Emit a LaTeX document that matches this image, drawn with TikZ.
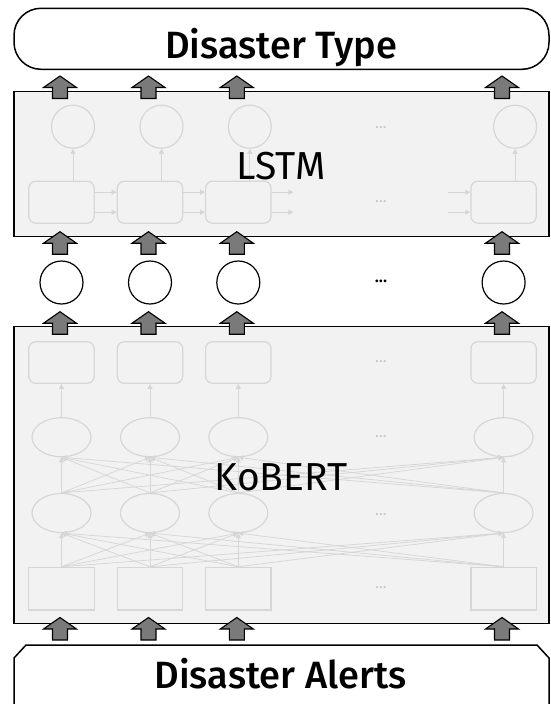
\documentclass[tikz,border=0pt]{standalone}
\usepackage{fontspec}
\setmainfont{Fira Sans}[UprightFont=* Medium]
\newfontfamily\regfont{Fira Sans}
\usetikzlibrary{shapes.geometric,shapes.misc,arrows.meta}
\definecolor{boxfill}{HTML}{F2F2F2}
\definecolor{faint}{HTML}{D6D6D6}
\definecolor{faintdot}{HTML}{C8C8C8}
\definecolor{arrgray}{HTML}{7A7A7A}
\tikzset{
  layerbox/.style={draw=black, line width=1.5pt, fill=boxfill, rectangle, inner sep=0},
  bigtext/.style={font=\fontsize{38}{46}\selectfont, inner sep=0},
  layertext/.style={font=\regfont\fontsize{39}{46}\selectfont, inner sep=0},
  faintline/.style={draw=faint, line width=1.2pt},
  faintarrow/.style={draw=faint, line width=1pt, -{Triangle[length=5pt,width=5pt]}, color=faint},
  fan/.style={draw=faint, line width=0.75pt, -{Triangle[length=5pt,width=5pt]}, color=faint},
  roundcell/.style={faintline, rectangle, rounded corners=7pt, minimum width=65.4pt, minimum height=42pt, inner sep=0},
  sqcell/.style={faintline, rectangle, minimum width=65.4pt, minimum height=42.7pt, inner sep=0},
  ellcell/.style={faintline, ellipse, minimum width=59pt, minimum height=39pt, inner sep=0},
  outcirc/.style={faintline, circle, minimum size=43pt, inner sep=0},
  tokcirc/.style={draw=black, line width=1.2pt, circle, minimum size=43pt, inner sep=0},
  fdots/.style={text=faintdot, font=\regfont\fontsize{16}{16}\selectfont, inner sep=0},
  bdots/.style={text=black, font=\fontsize{17}{17}\selectfont, inner sep=0},
  bigup/.pic={\draw[fill=arrgray, draw=black, line width=1.1pt, line join=miter]
     (0,0) -- (16.5,11.5) -- (7.5,11.5) -- (7.5,22.5) -- (-7.5,22.5) -- (-7.5,11.5) -- (-16.5,11.5) -- cycle;}
}
\begin{document}
\begin{tikzpicture}[x=1pt,y=-1pt]
\useasboundingbox (0,0) rectangle (551,704);

% output box
\node[draw=black, line width=1.5pt, rectangle, rounded corners=27pt, minimum width=535pt, minimum height=61pt, inner sep=0] (typebox) at (281.5,38.8) {};
\node[bigtext, anchor=base] (typetext) at (281,58.5) {Disaster Type};

% LSTM box
\node[layerbox, minimum width=535pt, minimum height=145pt] (lstm) at (281.5,164.2) {};
\foreach \i/\x in {1/61.5,2/150,3/238.3,4/503.6}{
  \node[roundcell] (lb\i) at (\x,202.2) {};
  \node[outcirc] (lc\i) at ({\x+11.5},126.7) {};
  \draw[faintarrow] (lb\i.north -| lc\i) -- (lc\i.south);
}
\foreach \a/\b in {1/2,2/3}{
  \draw[faintarrow] ([yshift=-10pt]lb\a.east) -- ([yshift=-10pt]lb\b.west);
  \draw[faintarrow] ([yshift=10pt]lb\a.east) -- ([yshift=10pt]lb\b.west);
}
\coordinate (lout) at (293.4,202.2);
\coordinate (lin) at (448,202.2);
\draw[faintarrow] ([yshift=-10pt]lb3.east) -- ([yshift=-10pt]lout);
\draw[faintarrow] ([yshift=10pt]lb3.east) -- ([yshift=10pt]lout);
\draw[faintarrow] ([yshift=-10pt]lin) -- ([yshift=-10pt]lb4.west);
\draw[faintarrow] ([yshift=10pt]lin) -- ([yshift=10pt]lb4.west);
\node[fdots] (ld1) at (381,128) {...};
\node[fdots] (ld2) at (381,202) {...};
\node[layertext, anchor=base] (lstmtext) at (281,179.5) {LSTM};

% token circles
\foreach \i/\x in {1/61.5,2/150,3/238.3,4/503.6}{
  \node[tokcirc] (tc\i) at (\x,282.5) {};
}
\node[bdots] (tdots) at (381,281.5) {...};

% KoBERT box
\node[layerbox, minimum width=535pt, minimum height=296.6pt] (kobert) at (281.5,475) {};
\foreach \i/\x in {1/61.5,2/150,3/238.3,4/503.6}{
  \node[roundcell, minimum height=41.6pt] (kb\i) at (\x,362.5) {};
  \node[ellcell] (ke\i) at (\x,437.2) {};
  \node[ellcell] (kf\i) at (\x,513) {};
  \node[sqcell] (ks\i) at (\x,588.7) {};
  \draw[faintarrow] (ke\i.north) -- (kb\i.south);
}
\foreach \i in {1,...,4}{
  \foreach \j in {1,...,4}{
    \draw[fan] (ks\j.north) -- (kf\i.south);
    \draw[fan] (kf\j.north) -- (ke\i.south);
  }
}
\node[fdots] (kd1) at (381,362) {...};
\node[fdots] (kd2) at (381,437) {...};
\node[fdots] (kd3) at (381,514.5) {...};
\node[fdots] (kd4) at (381,588) {...};
\node[layertext, anchor=base] (kotext) at (281,490) {KoBERT};

% input box (cut off by the page bottom)
\draw[line width=1.5pt, line join=miter] (14,720) -- (14,658) -- (26,645) -- (537,645) -- (549,658) -- (549,720);
\node[bigtext, anchor=base] (alerttext) at (280.5,688.5) {Disaster Alerts};

% big block arrows
\foreach \x in {60,148.5,236.8,502}{
  \pic at (\x,76) {bigup};
  \pic at (\x,231.7) {bigup};
  \pic at (\x,311.7) {bigup};
  \pic at (\x,617.5) {bigup};
}
\end{tikzpicture}
\end{document}
